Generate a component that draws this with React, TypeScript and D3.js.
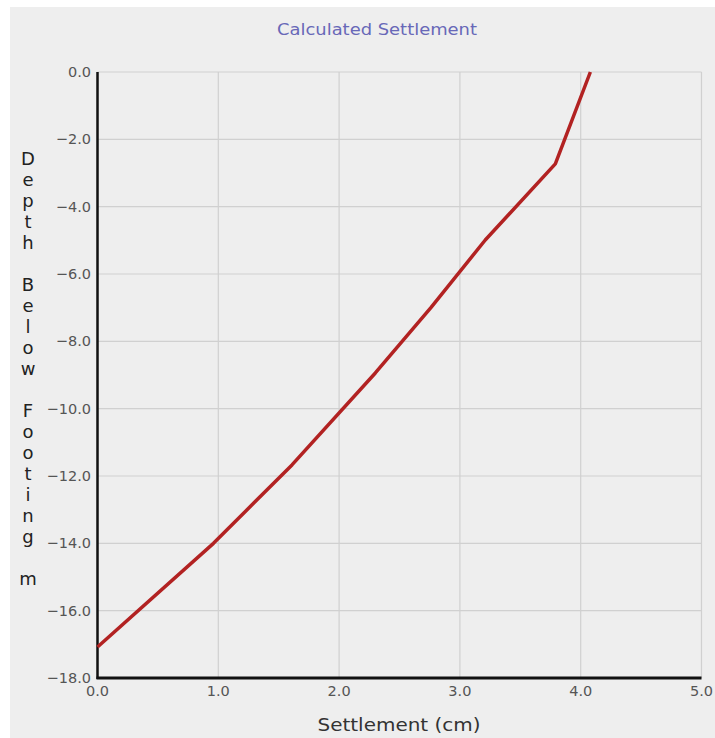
import React from "react";
import * as d3 from "d3";

const settlement = [4.08, 3.79, 3.21, 2.76, 2.3, 1.61, 0.96, 0.0];
const depth = [0, -2.73, -4.99, -7.0, -8.94, -11.67, -14.0, -17.08];
const xTicks = [0, 1, 2, 3, 4, 5];
const yTicks = [0, -2, -4, -6, -8, -10, -12, -14, -16, -18];
const title = "Calculated Settlement";
const xTitle = "Settlement (cm)";
const yTitle = "Depth Below Footing m";

export default function App() {
  const W = 715, H = 738;
  const left = 97.5, right = 701.5, top = 72, bottom = 678;
  const x = d3.scaleLinear().domain([0, 5]).range([left, right]);
  const y = d3.scaleLinear().domain([0, -18]).range([top, bottom]);
  const pts = settlement.map((s, i) => [s, depth[i]] as [number, number]);
  const line = d3.line<[number, number]>().x(d => x(d[0])).y(d => y(d[1]));
  const font = "'DejaVu Sans', 'Open Sans', sans-serif";
  return (
    <svg width={W} height={H} style={{ position: "absolute", left: 0, top: 0 }} fontFamily={font}>
      <rect x={0} y={0} width={W} height={H} fill="#ffffff" />
      <rect x={10} y={7} width={W - 10} height={H - 7} fill="#eeeeee" />
      <text x={377} y={35} textAnchor="middle" fontSize={16} fill="#6868b8" textLength={200} lengthAdjust="spacingAndGlyphs">{title}</text>
      {xTicks.map(t => (
        <line key={"gx" + t} x1={x(t)} x2={x(t)} y1={top} y2={bottom} stroke="#d0d0d0" strokeWidth={1.2} />
      ))}
      {yTicks.map(t => (
        <line key={"gy" + t} x1={left} x2={right} y1={y(t)} y2={y(t)} stroke="#d0d0d0" strokeWidth={1.2} />
      ))}
      <line x1={left} x2={left} y1={top} y2={bottom + 1} stroke="#111" strokeWidth={2.5} />
      <line x1={left - 1} x2={right} y1={bottom} y2={bottom} stroke="#111" strokeWidth={3} />
      {yTicks.map(t => (
        <text key={"ty" + t} x={91} y={y(t) + 5} textAnchor="end" fontSize={14.5} fill="#555">
          {(t === 0 ? "0.0" : "\u2212" + Math.abs(t).toFixed(1))}
        </text>
      ))}
      {xTicks.map(t => (
        <text key={"tx" + t} x={x(t)} y={696} textAnchor="middle" fontSize={14.5} fill="#555">
          {t.toFixed(1)}
        </text>
      ))}
      <path d={line(pts) || ""} fill="none" stroke="#b22222" strokeWidth={3.5} strokeLinejoin="round" />
      <text x={399} y={731} textAnchor="middle" fontSize={18} fill="#333" textLength={163} lengthAdjust="spacingAndGlyphs">{xTitle}</text>
      {yTitle.split("").map((c, i) => (
        <text key={"yl" + i} x={28} y={165 + i * 21} textAnchor="middle" fontSize={18} fill="#222">{c}</text>
      ))}
    </svg>
  );
}
